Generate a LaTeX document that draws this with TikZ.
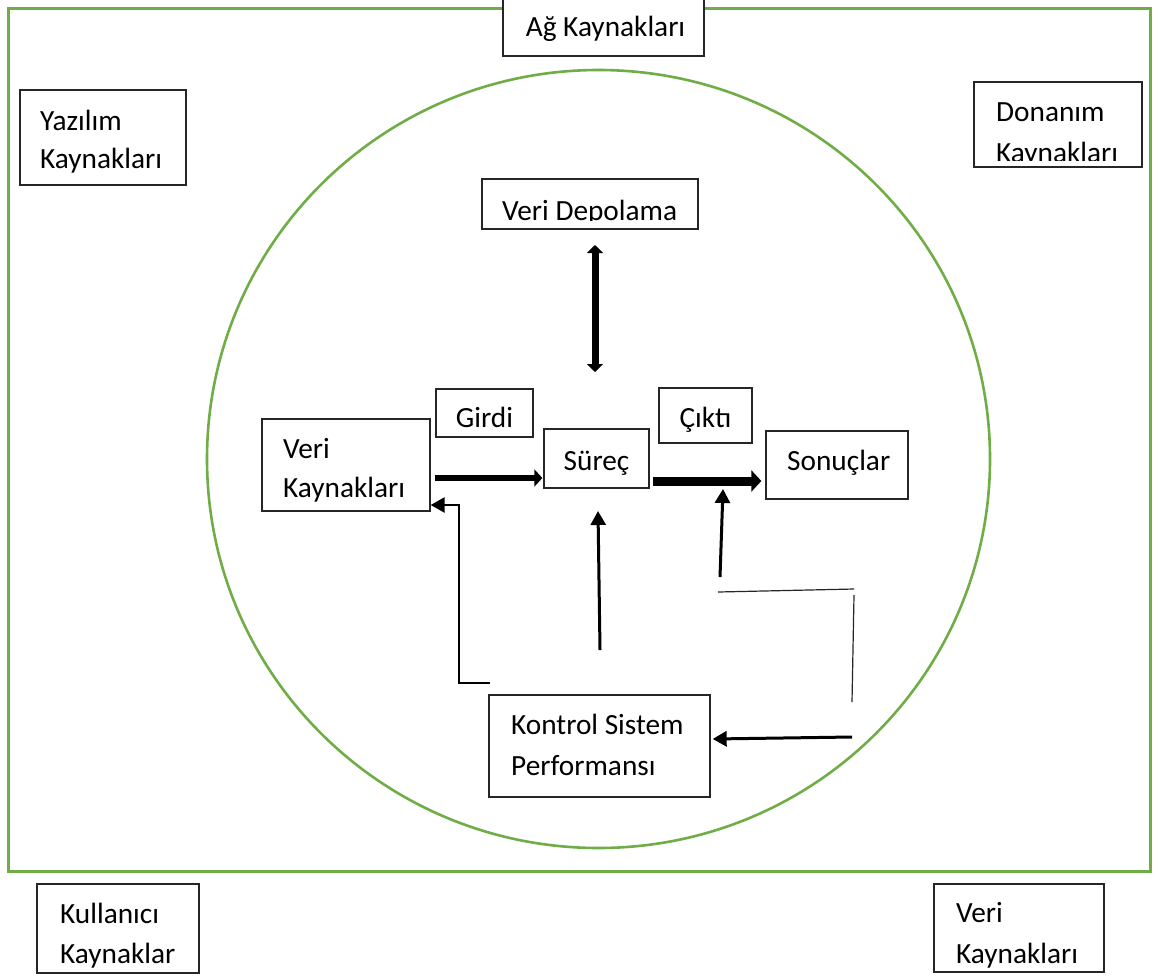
\documentclass[tikz,border=0pt]{standalone}
\usepackage{fontspec}
\setmainfont{Carlito}
\usetikzlibrary{arrows.meta}
\definecolor{grn}{HTML}{70AD47}
\begin{document}
\begin{tikzpicture}[x=1pt,y=-1pt,
  box/.style={draw=black!85, line width=1.3pt, fill=white, inner sep=0pt},
  txt/.style={anchor=base west, inner sep=0pt, font=\fontsize{29.3}{39}\selectfont},
  ctxt/.style={txt, anchor=base},
  inarrow/.style={line width=6.5pt, -{Triangle[length=8pt,width=17pt]}},
  outarrow/.style={line width=9pt, -{Triangle[length=10pt,width=21pt]}},
  dblarrow/.style={line width=7pt, {Triangle[length=8pt,width=16pt]}-{Triangle[length=8pt,width=16pt]}},
  ctrlarrow/.style={line width=3pt, -{Triangle[length=14pt,width=15pt]}},
  thinline/.style={line width=1.2pt, black!85}]
\useasboundingbox (0,0) rectangle (1166,978);
\fill[white] (0,0) rectangle (1166,978);
% green frame and circle
\draw[grn, line width=3pt] (8,8) rectangle (1150,871);
\draw[grn, line width=2.6pt] (598.5,459) ellipse [x radius=391.5, y radius=389];

% boxes
\node[box, minimum width=201pt, minimum height=61pt] (ag) at (603.5,25.5) {};
\node[box, minimum width=166pt, minimum height=95pt] (yaz) at (103,137.5) {};
\node[box, minimum width=168pt, minimum height=85pt] (don) at (1058,124.5) {};
\node[box, minimum width=216pt, minimum height=50pt] (vd) at (590,204) {};
\node[box, minimum width=97pt, minimum height=48pt] (gir) at (484.5,413) {};
\node[box, minimum width=93pt, minimum height=55pt] (cik) at (705.5,415.5) {};
\node[box, minimum width=168pt, minimum height=92pt] (vk) at (346,465) {};
\node[box, minimum width=105pt, minimum height=59pt] (sur) at (596.5,458.5) {};
\node[box, minimum width=142pt, minimum height=68pt] (son) at (837,465) {};
\node[box, minimum width=221pt, minimum height=102pt] (kon) at (599.5,746) {};
\node[box, minimum width=162pt, minimum height=89pt] (kul) at (118,928.5) {};
\node[box, minimum width=170pt, minimum height=88pt] (vk2) at (1019,928) {};

% texts
\node[ctxt] (agT) at (605.5,36) {Ağ Kaynakları};
\node[txt] (yazT1) at (40,130) {Yazılım};
\node[txt] (yazT2) at (40,168) {Kaynakları};
\node[txt] (donT1) at (996,121) {Donanım};
\begin{scope}
\clip (974,82) rectangle (1142,160);
\node[txt] (donT2) at (996,162) {Kaynakları};
\end{scope}
\begin{scope}
\clip (482,179) rectangle (698,220);
\node[txt] (vdT) at (502,220) {Veri Depolama};
\end{scope}
\node[ctxt] (girT) at (484.5,427) {Girdi};
\node[ctxt] (cikT) at (705.5,427) {Çıktı};
\node[txt] (vkT1) at (283,458) {Veri};
\node[txt] (vkT2) at (283,497) {Kaynakları};
\node[ctxt] (surT) at (596.5,470) {Süreç};
\node[txt] (sonT) at (787,470) {Sonuçlar};
\node[txt] (konT1) at (511,734) {Kontrol Sistem};
\node[txt] (konT2) at (511,775) {Performansı};
\node[txt] (kulT1) at (60,923) {Kullanıcı};
\node[txt] (kulT2) at (60,963) {Kaynaklar};
\node[txt] (vk2T1) at (956,922) {Veri};
\node[txt] (vk2T2) at (956,963) {Kaynakları};

% connector coordinates
\coordinate (yIn) at (0,478);
\coordinate (yOut) at (0,481);
\coordinate (dTop) at (595,245);
\coordinate (dBot) at (595,372);
\coordinate (upS) at (600,650);
\coordinate (upE) at (598,511);
\coordinate (rS) at (720,577);
\coordinate (rE) at (723,489);
\coordinate (hA) at (718,592);
\coordinate (hB) at (854,589);
\coordinate (vA) at (854,595);
\coordinate (vB) at (852,702);
\coordinate (kS) at (852,737);
\coordinate (eS) at (490,683);
\coordinate (eC) at (459,683);
\coordinate (eD) at (459,505);

% connectors
\draw[inarrow] ([xshift=4pt]vk.east |- yIn) -- ([xshift=-1pt]sur.west |- yIn);
\draw[outarrow] ([xshift=3pt]sur.east |- yOut) -- ([xshift=-4pt]son.west |- yOut);
\draw[dblarrow] (dTop) -- (dBot);
\draw[ctrlarrow] (upS) -- (upE);
\draw[ctrlarrow] (rS) -- (rE);
\draw[thinline] (hA) -- (hB);
\draw[thinline] (vA) -- (vB);
\draw[ctrlarrow] (kS) -- ([xshift=2pt]kon.east |- 0,739);
\draw[ctrlarrow, line width=2.6pt] (eS) -- (eC) -- (eD) -- (vk.east |- eD);
\end{tikzpicture}
\end{document}
